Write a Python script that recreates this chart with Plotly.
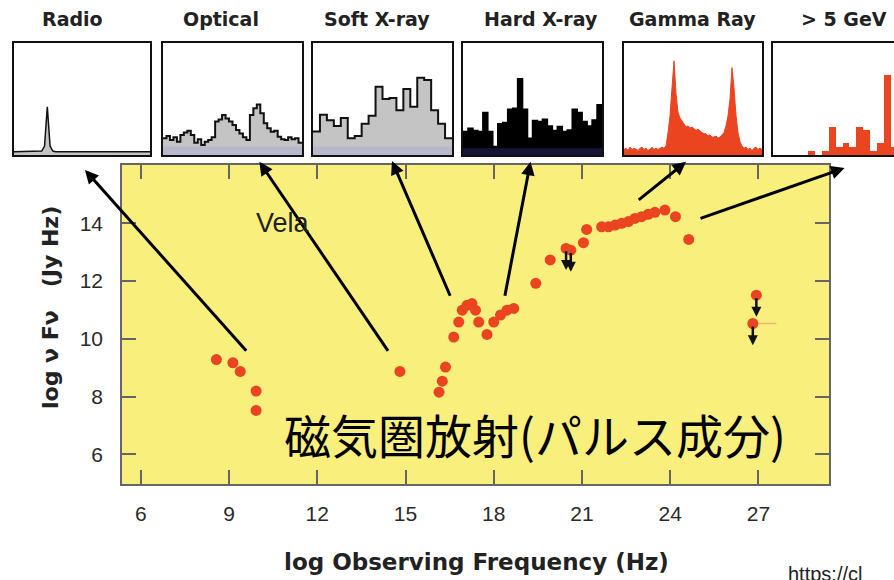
import plotly.graph_objects as go

W, H = 894, 580

# ---- Vela pulsar spectral energy distribution (log nu, log nu F_nu) ----
sed_logfreq = [8.57, 9.13, 9.38, 9.92, 9.92,
               14.81,
               16.14, 16.25, 16.36,
               16.64, 16.81, 16.93, 17.09, 17.26, 17.38, 17.49, 17.77,
               18.00, 18.23, 18.45, 18.68,
               19.43, 19.92,
               21.05, 21.16, 21.67, 21.90, 22.13, 22.35, 22.58, 22.80,
               23.03, 23.25, 23.48, 23.82, 24.18, 24.63]
sed_logflux = [9.28, 9.17, 8.87, 8.19, 7.52,
               8.87,
               8.15, 8.53, 9.02,
               10.06, 10.58, 10.99, 11.16, 11.22, 10.99, 10.58, 10.15,
               10.58, 10.82, 10.99, 11.05,
               11.92, 12.73,
               13.33, 13.79, 13.88, 13.88, 13.94, 14.00, 14.06, 14.17,
               14.23, 14.31, 14.38, 14.46, 14.23, 13.44]

# upper limits
ul_logfreq = [20.46, 20.62, 26.93, 26.81]
ul_logflux = [13.13, 13.07, 11.51, 10.53]
ul_xerr_plus = [0.0, 0.0, 0.0, 0.8]

x_ticks = [6, 9, 12, 15, 18, 21, 24, 27]
y_ticks = [6, 8, 10, 12, 14]

# ---- pulse profiles for each band ----
panel_titles = ["Radio", "Optical", "Soft X-ray", "Hard X-ray", "Gamma Ray", "> 5 GeV"]

radio_profile = [0.03, 0.03, 0.03, 0.03, 0.03, 0.03, 0.03, 0.03, 0.03, 0.03,
                 0.035, 0.08, 0.43, 0.08, 0.035, 0.03, 0.03, 0.03, 0.03, 0.03,
                 0.03, 0.03, 0.03, 0.03, 0.03, 0.03, 0.03, 0.03, 0.03, 0.03,
                 0.03, 0.03, 0.03, 0.03, 0.03, 0.03, 0.03, 0.03, 0.03, 0.03,
                 0.03, 0.03, 0.03, 0.03, 0.03, 0.03, 0.03, 0.03, 0.03, 0.03]

optical_profile = [0.149, 0.17, 0.134, 0.158, 0.119, 0.179, 0.2, 0.217, 0.179, 0.11,
                   0.14, 0.089, 0.119, 0.134, 0.158, 0.298, 0.318, 0.357, 0.327, 0.298,
                   0.268, 0.223, 0.193, 0.158, 0.134, 0.357, 0.417, 0.452, 0.372, 0.283,
                   0.238, 0.208, 0.217, 0.164, 0.14, 0.134, 0.158, 0.14, 0.149, 0.11]

softx_profile = [0.21, 0.36, 0.31, 0.26, 0.33, 0.15, 0.17, 0.28, 0.35, 0.61,
                 0.50, 0.51, 0.40, 0.59, 0.43, 0.69, 0.67, 0.40, 0.28, 0.15]

hardx_profile = [0.209, 0.239, 0.218, 0.209, 0.379, 0.209, 0.075, 0.278, 0.29, 0.409,
                 0.418, 0.681, 0.409, 0.149, 0.307, 0.299, 0.319, 0.26, 0.218, 0.254,
                 0.209, 0.224, 0.409, 0.379, 0.299, 0.26, 0.313, 0.448]

gamma_profile = [0.05, 0.06, 0.04, 0.07, 0.05, 0.06, 0.05, 0.04, 0.06, 0.07,
                 0.05, 0.06, 0.04, 0.05, 0.07, 0.05, 0.06, 0.05, 0.06, 0.07,
                 0.06, 0.08, 0.20, 0.35, 0.60, 0.84, 0.55, 0.38, 0.33, 0.30,
                 0.27, 0.25, 0.26, 0.24, 0.25, 0.23, 0.22, 0.23, 0.21, 0.20,
                 0.19, 0.19, 0.17, 0.18, 0.16, 0.16, 0.17, 0.15, 0.16, 0.18,
                 0.20, 0.26, 0.35, 0.50, 0.78, 0.60, 0.35, 0.20, 0.12, 0.08,
                 0.06, 0.07, 0.05, 0.06, 0.04, 0.06, 0.07, 0.05, 0.06, 0.05]

gev_counts = [0, 0, 0, 0, 0, 0.038, 0, 0.038, 0.254, 0.073,
              0.108, 0.073, 0.254, 0.219, 0.035, 0.108, 0.716, 0.07, 0.25, 0.1]

RED = "#ea4420"
YELLOW = "#f9ef7c"
TICK_FONT = dict(family="Liberation Sans, Arial, sans-serif", size=21, color="#2a2a2a")
BOLD = "DejaVu Sans, Arial, sans-serif"


def px_x(p):
    return p / W


def px_y(p):
    return 1 - p / H


fig = go.Figure()

# ---- main SED panel ----
fig.add_trace(go.Scatter(
    x=sed_logfreq, y=sed_logflux, mode="markers",
    marker=dict(size=11, color=RED, line=dict(width=0)),
    xaxis="x", yaxis="y", showlegend=False, cliponaxis=False))

fig.add_trace(go.Scatter(
    x=ul_logfreq, y=ul_logflux, mode="markers",
    marker=dict(size=11, color=RED, line=dict(width=0)),
    error_x=dict(type="data", symmetric=False, array=ul_xerr_plus,
                 arrayminus=[0, 0, 0, 0], color="rgba(230,140,120,0.6)",
                 thickness=1.5, width=0),
    xaxis="x", yaxis="y", showlegend=False))

annotations = []
# downward arrows for the upper limits
for xv, yv in zip(ul_logfreq, ul_logflux):
    annotations.append(dict(
        x=xv, y=yv - 0.75, ax=xv, ay=yv - 0.05, xref="x", yref="y",
        axref="x", ayref="y", showarrow=True, text="",
        arrowhead=2, arrowsize=0.8, arrowwidth=2.5, arrowcolor="#111111"))

# arrows linking each part of the spectrum to its pulse profile
link_tails = [(9.63, 9.53), (14.44, 9.53), (16.54, 11.44),
              (18.37, 11.44), (22.88, 14.77), (24.98, 14.15)]
link_heads = [(4.10, 15.85), (10.03, 16.13), (14.54, 16.16),
              (19.25, 16.13), (24.54, 16.13), (29.93, 15.92)]
for (tx, ty), (hx, hy) in zip(link_tails, link_heads):
    annotations.append(dict(
        x=hx, y=hy, ax=tx, ay=ty, xref="x", yref="y", axref="x", ayref="y",
        showarrow=True, text="", arrowhead=2, arrowsize=0.9, arrowwidth=3,
        arrowcolor="#000000"))

annotations.append(dict(
    x=10.85, y=14.0, xref="x", yref="y", text="Vela", showarrow=False,
    xanchor="center", yanchor="middle",
    font=dict(family="Liberation Sans, Arial, sans-serif", size=27, color="#222222")))

annotations.append(dict(
    x=19.4, y=6.72, xref="x", yref="y", text="磁気圏放射(パルス成分)",
    showarrow=False, xanchor="center", yanchor="middle",
    font=dict(family="Noto Sans CJK JP, sans-serif", size=47, color="#000000")))

annotations.append(dict(
    x=px_x(476), y=px_y(562), xref="paper", yref="paper",
    xanchor="center", yanchor="middle",
    text="<b>log Observing Frequency (Hz)</b>", showarrow=False,
    font=dict(family=BOLD, size=23, color="#222222")))

annotations.append(dict(
    x=px_x(50), y=px_y(308), xref="paper", yref="paper",
    xanchor="center", yanchor="middle",
    text="<b>log ν Fν\u00a0\u00a0\u00a0(Jy Hz)</b>", showarrow=False, textangle=-90,
    font=dict(family=BOLD, size=22, color="#222222")))

annotations.append(dict(
    x=px_x(786), y=px_y(561), xref="paper", yref="paper", xanchor="left",
    yanchor="top", text="https://cl", showarrow=False,
    font=dict(family="Liberation Sans, Arial, sans-serif", size=20, color="#222222")))

axis_common = dict(ticks="inside", ticklen=14, tickwidth=1.5, tickcolor="#666666",
                   showline=True, linecolor="#666666", linewidth=1.5, mirror="ticks",
                   showgrid=False, zeroline=False, tickfont=TICK_FONT)

layout = dict(
    width=W, height=H, autosize=False,
    margin=dict(l=0, r=0, t=0, b=0),
    paper_bgcolor="white", plot_bgcolor="white",
    xaxis=dict(domain=[px_x(122), px_x(829)], range=[5.36, 29.4],
               tickvals=x_ticks, ticklabelstandoff=10, anchor="y", **axis_common),
    yaxis=dict(domain=[px_y(484), px_y(165)], range=[4.97, 16.02],
               tickvals=y_ticks, ticklabelstandoff=13, anchor="x", **axis_common),
)

shapes = [dict(type="rect", xref="x domain", yref="y domain", x0=0, x1=1, y0=0, y1=1,
               fillcolor=YELLOW, line=dict(width=0), layer="below")]

# ---- pulse profile insets ----
panel_px = [(14, 150), (163, 302), (313, 452), (463, 602), (624, 762), (773, 912)]
panel_ydom = [px_y(155), px_y(43)]
title_centers = [72, 221, 377, 541, 692, 844]


def profile_steps(vals):
    xs = list(range(len(vals) + 1))
    ys = list(vals) + [vals[-1]]
    return xs, ys


for i in range(6):
    n = i + 2
    xa, ya = f"x{n}", f"y{n}"
    x0, x1 = panel_px[i]
    if i == 0:
        xs = list(range(len(radio_profile)))
        fig.add_trace(go.Scatter(x=xs, y=radio_profile, mode="lines", fill="tozeroy",
                                 fillcolor="#c4c4c4", line=dict(color="#111111", width=1.5),
                                 xaxis=xa, yaxis=ya, showlegend=False))
        xr = [0, len(radio_profile) - 1]
    elif i in (1, 2):
        vals = optical_profile if i == 1 else softx_profile
        xs, ys = profile_steps(vals)
        fig.add_trace(go.Scatter(x=xs, y=ys, mode="lines", line_shape="hv", fill="tozeroy",
                                 fillcolor="#c4c4c4", line=dict(color="#111111", width=2),
                                 xaxis=xa, yaxis=ya, showlegend=False))
        xr = [0, len(vals)]
        shapes.append(dict(type="rect", xref=f"{xa} domain", yref=ya, x0=0, x1=1,
                           y0=0, y1=0.075, fillcolor="#b8b8cc", line=dict(width=0),
                           layer="above"))
    elif i == 3:
        xs, ys = profile_steps(hardx_profile)
        fig.add_trace(go.Scatter(x=xs, y=ys, mode="lines", line_shape="hv", fill="tozeroy",
                                 fillcolor="#000000", line=dict(color="#000000", width=1.5),
                                 xaxis=xa, yaxis=ya, showlegend=False))
        xr = [0, len(hardx_profile)]
        shapes.append(dict(type="rect", xref=f"{xa} domain", yref=ya, x0=0, x1=1,
                           y0=0, y1=0.06, fillcolor="#141436", line=dict(width=0),
                           layer="above"))
    elif i == 4:
        xs = list(range(len(gamma_profile)))
        fig.add_trace(go.Scatter(x=xs, y=gamma_profile, mode="lines", fill="tozeroy",
                                 fillcolor=RED, line=dict(color=RED, width=1),
                                 xaxis=xa, yaxis=ya, showlegend=False))
        xr = [0, len(gamma_profile) - 1]
    else:
        xs = [k + 0.5 for k in range(len(gev_counts))]
        fig.add_trace(go.Bar(x=xs, y=gev_counts, width=1, marker=dict(color=RED, line=dict(width=0)),
                             xaxis=xa, yaxis=ya, showlegend=False))
        xr = [0, len(gev_counts) * (W - x0) / (x1 - x0)]
        x1 = W

    layout[f"xaxis{n}"] = dict(domain=[px_x(x0), px_x(x1)], range=xr, anchor=ya,
                               showline=True, linecolor="#111111", linewidth=2,
                               mirror=True, showticklabels=False, ticks="",
                               showgrid=False, zeroline=False, fixedrange=True)
    layout[f"yaxis{n}"] = dict(domain=panel_ydom, range=[0, 1], anchor=xa,
                               showline=True, linecolor="#111111", linewidth=2,
                               mirror=(i != 5), showticklabels=False, ticks="",
                               showgrid=False, zeroline=False, fixedrange=True)
    annotations.append(dict(
        x=px_x(title_centers[i]), y=px_y(19), xref="paper", yref="paper",
        xanchor="center", yanchor="middle",
        text=f"<b>{panel_titles[i]}</b>", showarrow=False,
        font=dict(family=BOLD, size=19, color="#222222")))

layout["shapes"] = shapes
layout["annotations"] = annotations
layout["bargap"] = 0
fig.update_layout(**layout)

fig.write_html("out.html")
